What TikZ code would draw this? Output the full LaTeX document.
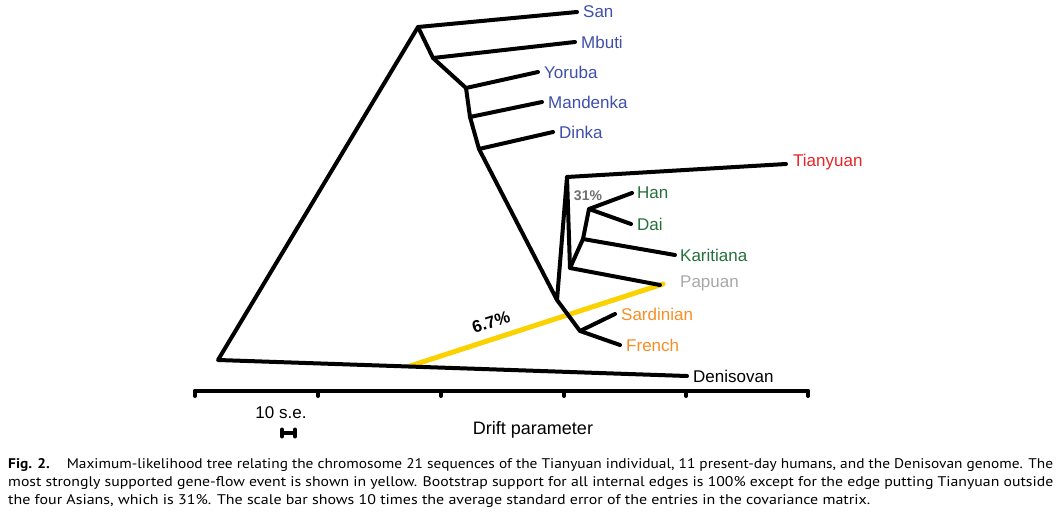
\documentclass[tikz,border=0pt]{standalone}
\usepackage{fontspec}
\setmainfont{Liberation Sans}
\newfontfamily\capfont{PT Sans}
\definecolor{afr}{RGB}{62,80,168}
\definecolor{tia}{RGB}{232,36,40}
\definecolor{asn}{RGB}{36,112,58}
\definecolor{pap}{RGB}{168,168,168}
\definecolor{eur}{RGB}{246,142,38}
\definecolor{flow}{RGB}{250,210,0}
\definecolor{boot}{RGB}{110,110,110}
\tikzset{
  edge/.style={line width=4pt, line cap=round, line join=round},
  leaf/.style={anchor=west, inner sep=0pt, font=\fontsize{17}{20}\selectfont},
  axisline/.style={line width=4pt, line cap=round},
  capline/.style={anchor=west, inner sep=0pt, font=\capfont\fontsize{14}{16}\selectfont}
}
\begin{document}
\begin{tikzpicture}[x=1pt,y=-1pt]
\useasboundingbox (0,0) rectangle (1058,513);
% internal coordinates
\coordinate (root) at (218,360);
\coordinate (A) at (418,27);
\coordinate (B) at (433,58);
\coordinate (C) at (466,88);
\coordinate (D) at (470,117);
\coordinate (E) at (479,149);
\coordinate (F) at (557,300);
\coordinate (G) at (567,177);
\coordinate (H) at (570,268);
\coordinate (I) at (583,239);
\coordinate (J) at (589,209);
\coordinate (K) at (580,331);
% leaf ends
\coordinate (san) at (577,12);
\coordinate (mbuti) at (575,42);
\coordinate (yoruba) at (538,72);
\coordinate (mandenka) at (542,102);
\coordinate (dinka) at (553,132);
\coordinate (tianyuan) at (786,164);
\coordinate (han) at (632,193);
\coordinate (dai) at (631,224);
\coordinate (karitiana) at (675,255);
\coordinate (papuan) at (660,285);
\coordinate (sardinian) at (615,314);
\coordinate (french) at (620,345);
\coordinate (denisovan) at (687,376);
\coordinate (fstart) at (410,366);
\coordinate (fend) at (663,284);
% gene flow
\draw[line width=5pt, flow, line cap=round] (fstart) -- (fend);
% tree
\draw[edge] (denisovan) -- (root) -- (A) -- (san);
\draw[edge] (A) -- (B) -- (mbuti);
\draw[edge] (B) -- (C) -- (yoruba);
\draw[edge] (C) -- (D) -- (mandenka);
\draw[edge] (D) -- (E) -- (dinka);
\draw[edge] (E) -- (F) -- (G) -- (tianyuan);
\draw[edge] (G) -- (H) -- (papuan);
\draw[edge] (H) -- (I) -- (karitiana);
\draw[edge] (I) -- (J) -- (han);
\draw[edge] (J) -- (dai);
\draw[edge] (F) -- (K) -- (sardinian);
\draw[edge] (K) -- (french);
% labels
\node[leaf, afr] (lsan) at ([xshift=6pt]san) {San};
\node[leaf, afr] (lmbuti) at ([xshift=6pt]mbuti) {Mbuti};
\node[leaf, afr] (lyoruba) at ([xshift=6pt]yoruba) {Yoruba};
\node[leaf, afr] (lmandenka) at ([xshift=6pt]mandenka) {Mandenka};
\node[leaf, afr] (ldinka) at ([xshift=6pt]dinka) {Dinka};
\node[leaf, tia] (ltianyuan) at ([xshift=7pt,yshift=2pt]tianyuan) {Tianyuan};
\node[leaf, asn] (lhan) at ([xshift=5pt]han) {Han};
\node[leaf, asn] (ldai) at ([xshift=6pt]dai) {Dai};
\node[leaf, asn] (lkaritiana) at ([xshift=5pt]karitiana) {Karitiana};
\node[leaf, pap] (lpapuan) at ([xshift=20pt,yshift=2pt]papuan) {Papuan};
\node[leaf, eur] (lsardinian) at ([xshift=6pt]sardinian) {Sardinian};
\node[leaf, eur] (lfrench) at ([xshift=6pt]french) {French};
\node[leaf] (ldenisovan) at ([xshift=6pt]denisovan) {Denisovan};
\node[font=\bfseries\fontsize{14}{16}\selectfont, boot, inner sep=0pt] (b31) at (588,196) {31\%};
\node[font=\bfseries\fontsize{17}{20}\selectfont, rotate=18, inner sep=0pt] (p67) at (491,322) {6.7\%};
% axis
\coordinate (ax0) at (195,391);
\coordinate (ax5) at (808,391);
\draw[axisline] (ax0) -- (ax5);
\foreach \x in {195,318,441,564,686,808}{
  \draw[line width=4pt, line cap=round] (\x,391) -- (\x,396);
}
\node[font=\fontsize{17}{20}\selectfont, inner sep=0pt] (se) at (281,413) {10 s.e.};
\coordinate (sb1) at (282,433);
\coordinate (sb2) at (295,433);
\draw[line width=4pt] (sb1) -- (sb2);
\draw[line width=4pt, line cap=round] ([yshift=-3.5pt]sb1) -- ([yshift=3.5pt]sb1);
\draw[line width=4pt, line cap=round] ([yshift=-3.5pt]sb2) -- ([yshift=3.5pt]sb2);
\node[font=\fontsize{18}{20}\selectfont, inner sep=0pt] (drift) at (533,430) {Drift parameter};
% caption
\node[capline] (cap1) at (8,465) {\resizebox{1045pt}{\height}{\textbf{Fig. 2.}\hspace{1.1em}Maximum-likelihood tree relating the chromosome 21 sequences of the Tianyuan individual, 11 present-day humans, and the Denisovan genome. The}};
\node[capline] (cap2) at (8,483) {\resizebox{1045pt}{\height}{most strongly supported gene-flow event is shown in yellow. Bootstrap support for all internal edges is 100\% except for the edge putting Tianyuan outside}};
\node[capline] (cap3) at (8,501) {\resizebox{862pt}{\height}{the four Asians, which is 31\%. The scale bar shows 10 times the average standard error of the entries in the covariance matrix.}};
\end{tikzpicture}
\end{document}
